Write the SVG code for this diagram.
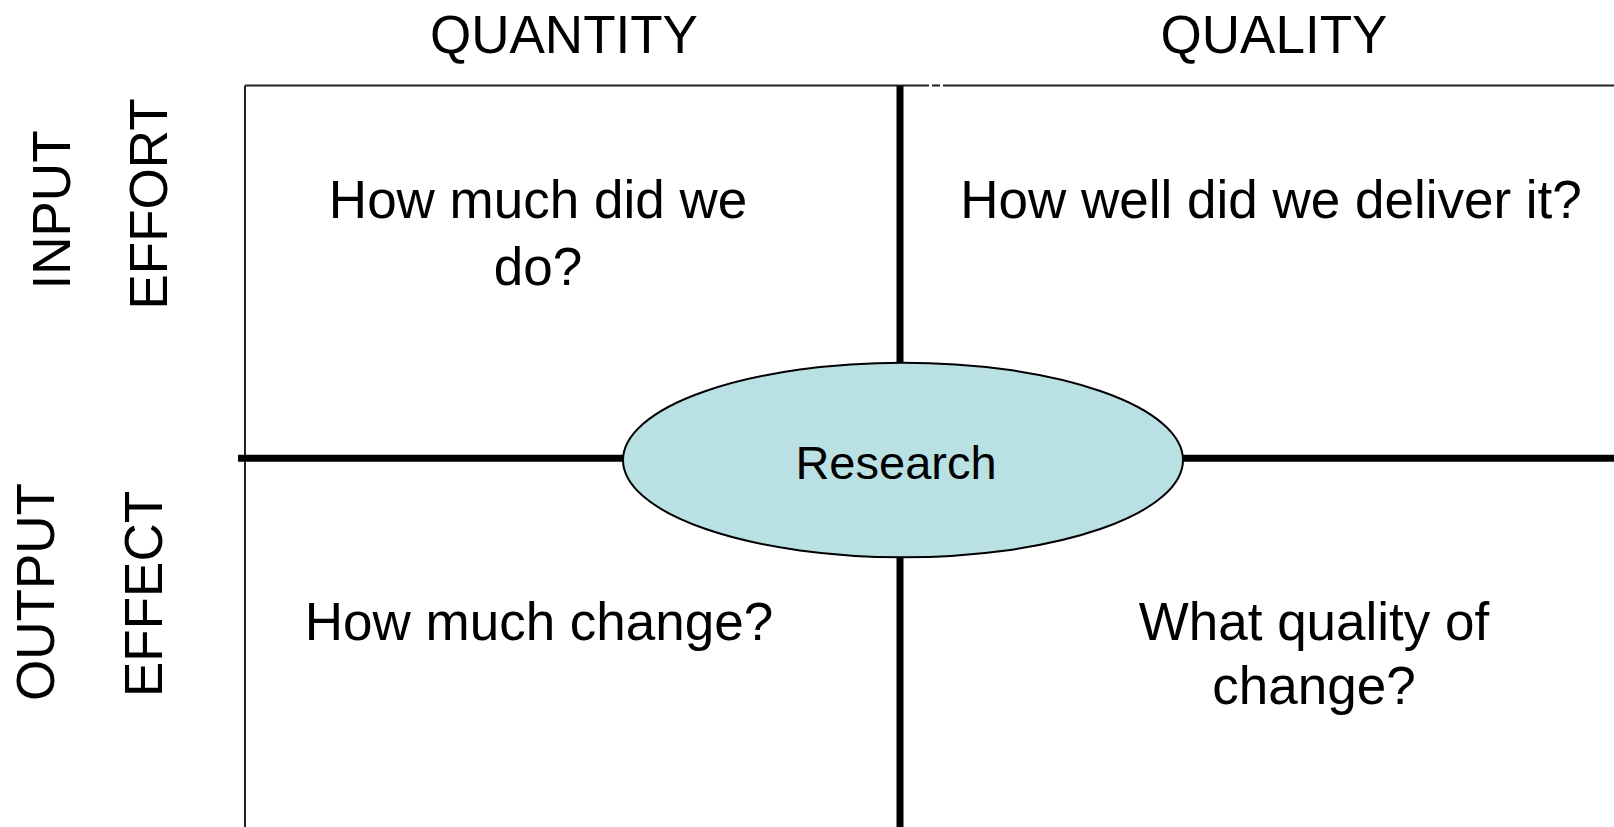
<svg xmlns="http://www.w3.org/2000/svg" width="1614" height="827" viewBox="0 0 1614 827">
  <style>
    .t { font-family: "Liberation Sans", Arial, sans-serif; font-size: 53px; fill: #000; text-anchor: middle; }
    .thin { stroke: #222; stroke-width: 2; fill: none; }
    .thick { stroke: #000; stroke-width: 7; fill: none; }
  </style>
  <rect width="1614" height="827" fill="#fff"/>
  <g id="connectors">
    <path class="thin" d="M245 85.5 H929 M932 85.5 H940 M943 85.5 H1614"/>
    <path class="thin" d="M245 85.5 V827"/>
    <path class="thick" d="M900 86 V365 M900 555 V827"/>
    <path class="thick" d="M238 458.3 H626 M1180 458.3 H1614"/>
  </g>
  <g id="header-quantity"><text class="t" x="564" y="53">QUANTITY</text></g>
  <g id="header-quality"><text class="t" x="1274" y="53">QUALITY</text></g>
  <g id="row-input"><text class="t" transform="translate(70,210) rotate(-90)">INPUT</text></g>
  <g id="row-effort"><text class="t" transform="translate(167,204) rotate(-90)">EFFORT</text></g>
  <g id="row-output"><text class="t" transform="translate(54,592) rotate(-90)">OUTPUT</text></g>
  <g id="row-effect"><text class="t" transform="translate(162,594) rotate(-90)">EFFECT</text></g>
  <g id="q1"><text class="t" x="538" y="218">How much did we</text><text class="t" x="538" y="285">do?</text></g>
  <g id="q2"><text class="t" x="1271" y="218">How well did we deliver it?</text></g>
  <g id="q3"><text class="t" x="539" y="640">How much change?</text></g>
  <g id="q4"><text class="t" x="1314" y="640">What quality of</text><text class="t" x="1314" y="704">change?</text></g>
  <g id="research">
    <ellipse cx="903" cy="460" rx="280" ry="97.3" fill="#B9E0E3" stroke="#000" stroke-width="2"/>
    <text class="t" x="896" y="479" style="font-size:47px">Research</text>
  </g>
</svg>
